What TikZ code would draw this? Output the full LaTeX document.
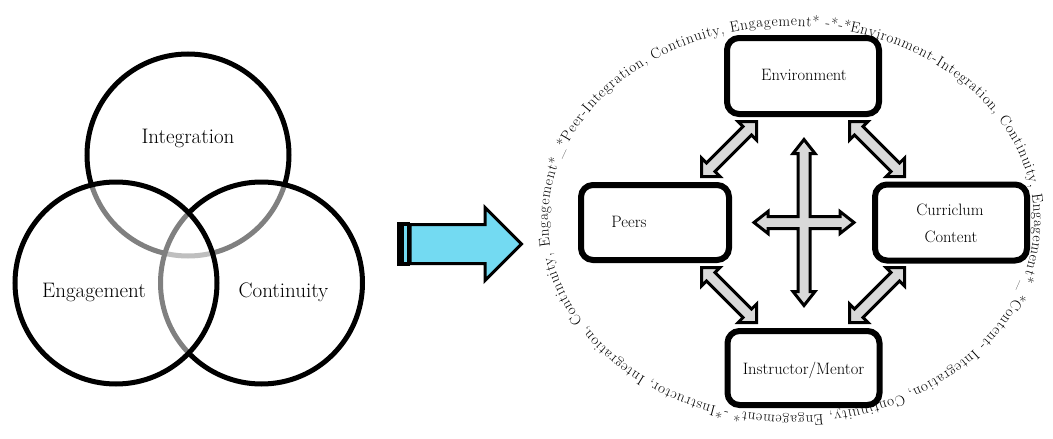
\documentclass[tikz,border=0pt]{standalone}
\usepackage{fontspec}
\usetikzlibrary{calc,decorations.text}

\definecolor{arrowblue}{RGB}{115,218,242}
\definecolor{blockgray}{RGB}{217,217,217}

\newcommand\ringfont{\fontsize{15}{18}\selectfont}

% double-headed block arrow between two tip points (#1) and (#2)
\newcommand\dbarrow[2]{%
  \draw[blockarrow] (#1)
    -- ($(#1)!13pt!(#2)!13pt!90:(#2)$)
    -- ($(#1)!13pt!(#2)!6pt!90:(#2)$)
    -- ($(#2)!13pt!(#1)!6pt!-90:(#1)$)
    -- ($(#2)!13pt!(#1)!13pt!-90:(#1)$)
    -- (#2)
    -- ($(#2)!13pt!(#1)!13pt!90:(#1)$)
    -- ($(#2)!13pt!(#1)!6pt!90:(#1)$)
    -- ($(#1)!13pt!(#2)!6pt!-90:(#2)$)
    -- ($(#1)!13pt!(#2)!13pt!-90:(#2)$)
    -- cycle;}

\tikzset{
  venn/.style={line width=5pt, draw=black, fill=white, fill opacity=0.5},
  venntext/.style={font=\fontsize{21}{25}\selectfont, anchor=base, inner sep=0pt},
  topicbox/.style={draw=black, line width=6pt, rounded corners=12pt, fill=white,
                   minimum width=152pt, minimum height=76pt, inner sep=0pt},
  boxtext/.style={font=\fontsize{16.5}{20}\selectfont, anchor=base, inner sep=0pt},
  blockarrow/.style={draw=black, line width=3pt, fill=blockgray},
  bluearrow/.style={draw=black, line width=3pt, fill=arrowblue},
}

\begin{document}
\begin{tikzpicture}[x=1pt, y=-1pt]
\useasboundingbox (0,0) rectangle (1053,439);

% --- three overlapping circles ---
\draw[venn] (188,155) circle[radius=101pt];
\draw[venn] (261.5,283) circle[radius=101pt];
\draw[venn] (116,283) circle[radius=101pt];
\node[venntext] (integration) at (188,143) {Integration};
\node[venntext] (engagement) at (94,297) {Engagement};
\node[venntext] (continuity) at (283.5,297) {Continuity};

% --- striped block arrow ---
\fill[black] (397,221.5) rectangle (410,265.5);
\fill[arrowblue] (404.3,226) rectangle (406.6,261.5);
\draw[bluearrow] (410,224.5) -- (485,224.5) -- (485,207.5) -- (521.5,244)
  -- (485,280.5) -- (485,263.5) -- (410,263.5) -- cycle;

% --- text running round the ring ---
\path[decorate, decoration={text along path, text align=fit to path,
  text={|\ringfont|Environment-Integration, Continuity, Engagement*{\_}*Content- Integration, Continuity, Engagement* -*Instructor, Integration, Continuity, Engagement*{\_}*Peer-Integration, Continuity, Engagement* -*-*}}]
  plot[domain=-76:284, samples=361] ({791+243*cos(\x)}, {221+195*sin(\x)});

% --- four boxes ---
\node[topicbox] (env) at (803,76) {};
\node[topicbox, minimum width=148pt, minimum height=75pt] (peers) at (655,222.5) {};
\node[topicbox] (curr) at (951,222.5) {};
\node[topicbox, minimum height=74pt] (instr) at (803.5,368) {};

\node[boxtext] (envtext) at (804,80) {Environment};
\node[boxtext] (peerstext) at (629,227.5) {Peers};
\node[boxtext] (currtext1) at (950,215) {Curriclum};
\node[boxtext] (currtext2) at (951,242) {Content};
\node[boxtext] (instrtext) at (803.5,374) {Instructor/Mentor};

% --- diagonal double arrows between the boxes ---
\coordinate (a1) at (756.5,121.5);
\coordinate (b1) at (701.5,176.5);
\coordinate (a2) at (849.5,121.5);
\coordinate (b2) at (904.5,176.5);
\coordinate (a3) at (701.5,267.5);
\coordinate (b3) at (756.5,322.5);
\coordinate (a4) at (904.5,267.5);
\coordinate (b4) at (849.5,322.5);
\dbarrow{b1}{a1}
\dbarrow{a2}{b2}
\dbarrow{a3}{b3}
\dbarrow{a4}{b4}

% --- four-way arrow in the middle ---
\coordinate (cross) at (804,222.5);
\draw[blockarrow, shift={(cross)}]
  (0,-83) -- (11,-69) -- (6,-69) -- (6,-6) -- (36,-6) -- (36,-11) -- (50,0)
  -- (36,11) -- (36,6) -- (6,6) -- (6,69) -- (11,69) -- (0,83) -- (-11,69)
  -- (-6,69) -- (-6,6) -- (-36,6) -- (-36,11) -- (-50,0) -- (-36,-11)
  -- (-36,-6) -- (-6,-6) -- (-6,-69) -- (-11,-69) -- cycle;
\end{tikzpicture}
\end{document}
